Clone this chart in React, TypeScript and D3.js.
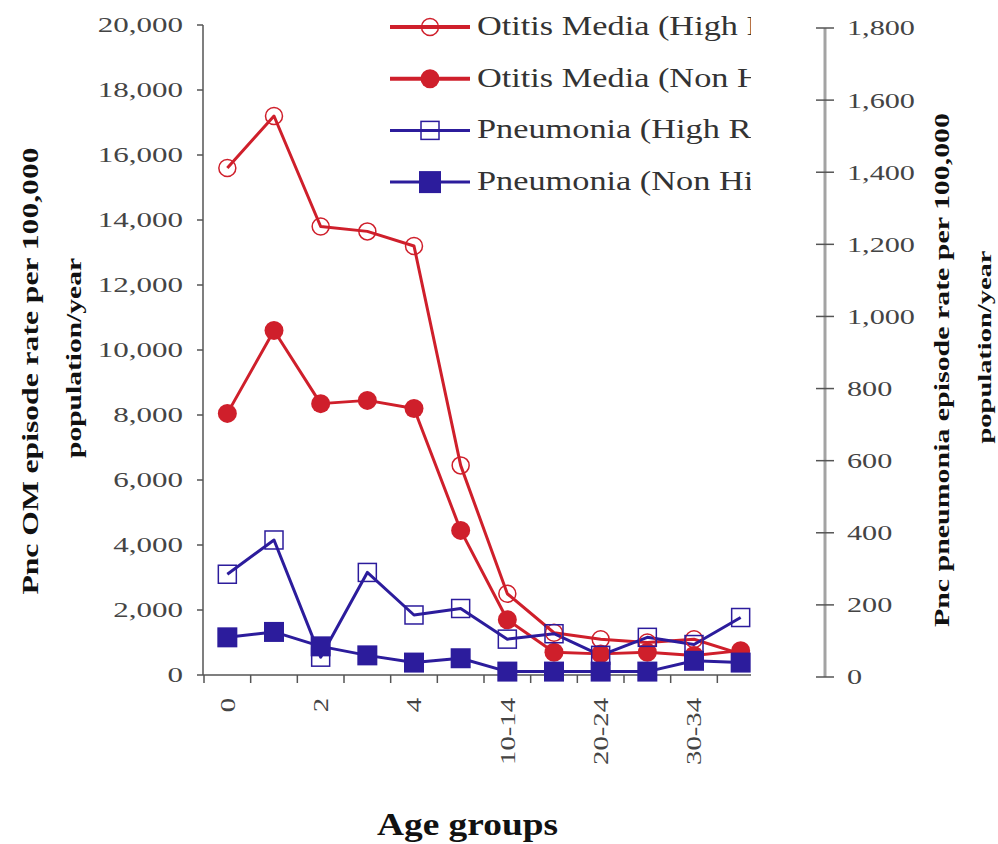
import React from 'react';
import * as d3 from 'd3';

// Age groups on the x axis; only every other group carries a label.
const categories = ['0', '1', '2', '3', '4', '5-9', '10-14', '15-19', '20-24', '25-29', '30-34', '35-39'];
const labelledCategories = ['0', '2', '4', '10-14', '20-24', '30-34'];

// Otitis media rates, left axis (episodes per 100,000 population/year).
const omHighRisk = [15600, 17200, 13800, 13650, 13200, 6450, 2500, 1300, 1100, 1000, 1100, 650];
const omNonHighRisk = [8050, 10600, 8350, 8450, 8200, 4450, 1700, 700, 650, 700, 600, 750];

// Pneumonia rates, right axis (episodes per 100,000 population/year).
const pneumoniaHighRisk = [285, 380, 55, 290, 172, 190, 105, 120, 60, 110, 90, 165];
const pneumoniaNonHighRisk = [110, 125, 85, 60, 40, 52, 15, 15, 15, 15, 45, 40];

const leftTicks = [0, 2000, 4000, 6000, 8000, 10000, 12000, 14000, 16000, 18000, 20000];
const rightTicks = [0, 200, 400, 600, 800, 1000, 1200, 1400, 1600, 1800];

// Legend entries run past the panel edge and are cut off there.
const legendLabels = [
  'Otitis Media (High R',
  'Otitis Media (Non H',
  'Pneumonia (High Ri',
  'Pneumonia (Non Hig',
];

const RED = '#cf1f2b';
const BLUE = '#2c1c9c';
const SERIF = '"Liberation Serif", "Times New Roman", serif';

// Advance widths (in em) of the glyphs used by the numeric labels; the labels
// are drawn wide, so their run length is set from these explicitly.
const glyphEm = (ch: string) => (ch === ',' ? 0.25 : ch === '-' ? 0.333 : 0.5);
const runLength = (s: string, perEm: number) => [...s].reduce((acc, ch) => acc + glyphEm(ch), 0) * perEm;

type MarkerKind = 'circleOpen' | 'circle' | 'squareOpen' | 'square';

function Marker({ kind, x, y, color, scale = 1 }: { kind: MarkerKind; x: number; y: number; color: string; scale?: number }) {
  if (kind === 'circleOpen') {
    return <circle cx={x} cy={y} r={8.5 * scale} fill="none" stroke={color} strokeWidth={1.5} />;
  }
  if (kind === 'circle') {
    return <circle cx={x} cy={y} r={9.5 * scale} fill={color} />;
  }
  if (kind === 'squareOpen') {
    const s = 18 * scale;
    return <rect x={x - s / 2} y={y - s / 2} width={s} height={s} fill="none" stroke={color} strokeWidth={1.5} />;
  }
  const s = 20 * scale;
  return <rect x={x - s / 2} y={y - s / 2} width={s} height={s} fill={color} />;
}

export default function App() {
  const width = 998;
  const height = 844;

  const x = d3.scaleBand<string>().domain(categories).range([204, 764]).paddingInner(0).paddingOuter(0);
  const yLeft = d3.scaleLinear().domain([0, 20000]).range([675, 25]);
  const yRight = d3.scaleLinear().domain([0, 1800]).range([677, 28]);
  const fmt = d3.format(',');
  const cx = (c: string) => (x(c) ?? 0) + x.bandwidth() / 2;

  const series = [
    { values: omHighRisk, y: yLeft, color: RED, marker: 'circleOpen' as MarkerKind, legendWidth: 4 },
    { values: omNonHighRisk, y: yLeft, color: RED, marker: 'circle' as MarkerKind, legendWidth: 4 },
    { values: pneumoniaHighRisk, y: yRight, color: BLUE, marker: 'squareOpen' as MarkerKind, legendWidth: 3 },
    { values: pneumoniaNonHighRisk, y: yRight, color: BLUE, marker: 'square' as MarkerKind, legendWidth: 3 },
  ];

  const boundaries = [...categories.map((c) => x(c) ?? 0), (x(categories[categories.length - 1]) ?? 0) + x.bandwidth()];

  return (
    <svg
      width={width}
      height={height}
      viewBox={`0 0 ${width} ${height}`}
      style={{ position: 'absolute', left: 0, top: 0, background: '#fff' }}
      fontFamily={SERIF}
    >
      <defs>
        <clipPath id="plot-clip">
          <rect x={0} y={0} width={751} height={height} />
        </clipPath>
      </defs>

      {/* left axis */}
      <g>
        <line x1={203} x2={203} y1={yLeft(20000)} y2={yLeft(0)} stroke="#555" strokeWidth={1.5} />
        {leftTicks.map((t) => (
          <g key={t}>
            <line x1={197} x2={203} y1={yLeft(t)} y2={yLeft(t)} stroke="#555" strokeWidth={1.5} />
            <text
              x={183}
              y={yLeft(t)}
              dy="0.34em"
              textAnchor="end"
              fontSize={20.5}
              fill="#444"
              textLength={runLength(fmt(t), 31)}
              lengthAdjust="spacingAndGlyphs"
            >
              {fmt(t)}
            </text>
          </g>
        ))}
      </g>

      {/* right axis */}
      <g>
        <line x1={825} x2={825} y1={yRight(1800)} y2={yRight(0)} stroke="#a3a3a3" strokeWidth={3} />
        {rightTicks.map((t) => (
          <g key={t}>
            <line x1={816} x2={834} y1={yRight(t)} y2={yRight(t)} stroke="#555" strokeWidth={1.5} />
            <text
              x={847}
              y={yRight(t)}
              dy="0.34em"
              textAnchor="start"
              fontSize={22}
              fill="#444"
              textLength={runLength(fmt(t), 30.2)}
              lengthAdjust="spacingAndGlyphs"
            >
              {fmt(t)}
            </text>
          </g>
        ))}
      </g>

      <g clipPath="url(#plot-clip)">
        {/* x axis */}
        <line x1={203} x2={764} y1={675} y2={675} stroke="#555" strokeWidth={1.5} />
        {boundaries.map((b, i) => (
          <line key={i} x1={b} x2={b} y1={675} y2={683} stroke="#555" strokeWidth={1.5} />
        ))}

        {/* series lines */}
        {series.map((s, k) => {
          const line = d3
            .line<number>()
            .x((_, i) => cx(categories[i]))
            .y((v) => s.y(v));
          return <path key={k} d={line(s.values) ?? ''} fill="none" stroke={s.color} strokeWidth={3} strokeLinejoin="round" />;
        })}
        {series.map((s, k) => (
          <g key={'m' + k}>
            {s.values.map((v, i) => (
              <Marker key={i} kind={s.marker} x={cx(categories[i])} y={s.y(v)} color={s.color} />
            ))}
          </g>
        ))}

        {/* legend */}
        {series.map((s, i) => {
          const ly = 27 + i * 51.7;
          return (
            <g key={'legend' + i}>
              <line x1={390} x2={470} y1={ly} y2={ly} stroke={s.color} strokeWidth={s.legendWidth} />
              <Marker kind={s.marker} x={430} y={ly} color={s.color} scale={s.marker === 'square' ? 1.1 : 1} />
              <text transform={`translate(477,${ly + 8}) scale(1.27,1)`} fontSize={27} fill="#333">
                {legendLabels[i]}
              </text>
            </g>
          );
        })}
      </g>

      {/* x tick labels */}
      {labelledCategories.map((c) => (
        <text
          key={c}
          transform={`translate(${cx(c)},698) rotate(-90)`}
          dy="0.34em"
          textAnchor="end"
          fontSize={22}
          fill="#444"
          textLength={runLength(c, 28.7)}
          lengthAdjust="spacingAndGlyphs"
        >
          {c}
        </text>
      ))}

      {/* axis titles */}
      <text x={377} y={835} fontSize={32} fontWeight="bold" fill="#111" textLength={181} lengthAdjust="spacingAndGlyphs">
        Age groups
      </text>

      <text
        transform="translate(38,371) rotate(-90)"
        textAnchor="middle"
        fontSize={24}
        fontWeight="bold"
        fill="#111"
        textLength={447}
        lengthAdjust="spacingAndGlyphs"
      >
        Pnc OM episode rate per 100,000
      </text>
      <text
        transform="translate(81,358) rotate(-90)"
        textAnchor="middle"
        fontSize={21}
        fontWeight="bold"
        fill="#111"
        textLength={200}
        lengthAdjust="spacingAndGlyphs"
      >
        population/year
      </text>

      <text
        transform="translate(949,370) rotate(-90)"
        textAnchor="middle"
        fontSize={21}
        fontWeight="bold"
        fill="#111"
        textLength={514}
        lengthAdjust="spacingAndGlyphs"
      >
        Pnc pneumonia episode rate per 100,000
      </text>
      <text
        transform="translate(991,347) rotate(-90)"
        textAnchor="middle"
        fontSize={19}
        fontWeight="bold"
        fill="#111"
        textLength={193}
        lengthAdjust="spacingAndGlyphs"
      >
        population/year
      </text>
    </svg>
  );
}
